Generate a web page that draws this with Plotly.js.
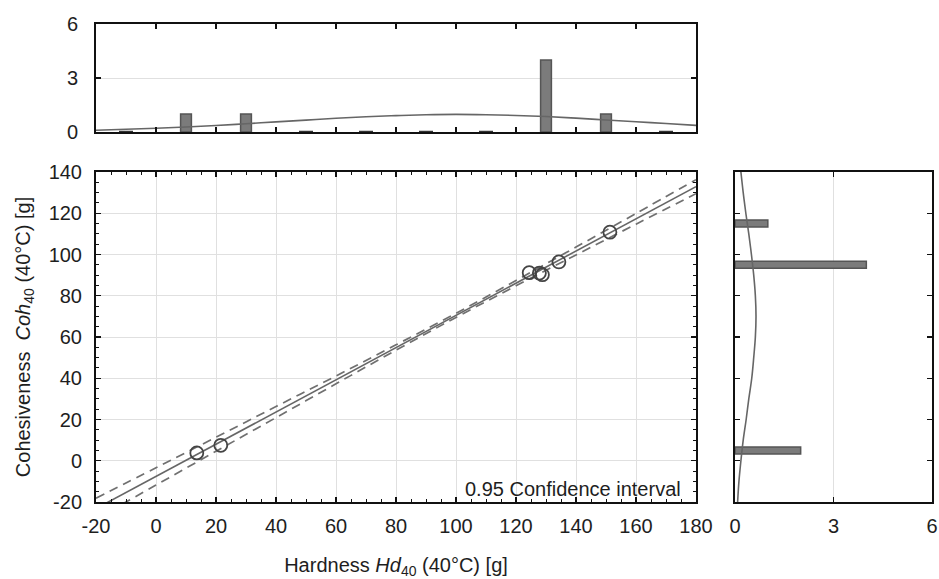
<!DOCTYPE html>
<html>
<head>
<meta charset="utf-8">
<script src="https://cdn.plot.ly/plotly-3.0.1.min.js"></script>
<style>html,body{margin:0;padding:0;background:#fff;}#chart{width:939px;height:579px;}</style>
</head>
<body>
<div id="chart"></div>
<script>
// ---- Data ----
const hardness = [13.6, 21.6, 124.4, 127.8, 128.8, 134.3, 151.3];
const cohesiveness = [3.8, 7.5, 91.2, 91.0, 90.2, 96.4, 110.8];

// regression line (end points) and 0.95 confidence band
const fitX = [-20, 180];
const fitY = [-23.2, 132.9];
const bandX = [-20, 0, 20, 40, 60, 80, 100, 120, 140, 160, 180];
const bandUpper = [-18.2, -3.4, 11.4, 26.3, 41.1, 56.2, 71.5, 87.4, 103.6, 119.9, 136.3];
const bandLower = [-28.2, -11.8, 4.6, 20.9, 37.3, 53.6, 69.5, 84.8, 99.8, 114.7, 129.5];

// histogram of hardness (top)
const hdBins = [-10, 10, 30, 50, 70, 90, 110, 130, 150, 170];
const hdCounts = [0, 1, 1, 0, 0, 0, 0, 4, 1, 0];
const hdCurveX = [-20, -10, 0, 10, 20, 30, 40, 50, 60, 70, 80, 90, 100, 110, 120, 130, 140, 150, 160, 170, 180];
const hdCurveY = [0.10, 0.15, 0.21, 0.28, 0.36, 0.46, 0.56, 0.66, 0.76, 0.85, 0.91, 0.96, 0.98, 0.96, 0.92, 0.86, 0.77, 0.67, 0.57, 0.47, 0.37];

// histogram of cohesiveness (right)
const cohBins = [5, 95, 115];
const cohCounts = [2, 4, 1];
const cohCurveY = [-20, -10, 0, 10, 20, 30, 40, 50, 60, 70, 80, 90, 100, 110, 120, 130, 140];
const cohCurveX = [0.08, 0.12, 0.18, 0.25, 0.34, 0.42, 0.51, 0.57, 0.62, 0.64, 0.62, 0.57, 0.50, 0.42, 0.33, 0.25, 0.18];

// tick values / labels
const xTicks = [-20, 0, 20, 40, 60, 80, 100, 120, 140, 160, 180];
const xTickText = ['-20', '0', '20', '40', '60', '80', '100', '120', '140', '160', '180'];
const yTicks = [-20, 0, 20, 40, 60, 80, 100, 120, 140];
const yTickText = ['-20', '0', '20', '40', '60', '80', '100', '120', '140'];
const countTicks = [0, 3, 6];
const countTickText = ['0', '3', '6'];

// ---- Styling ----
const FONT = 'Liberation Sans, Arial, Helvetica, sans-serif';
const INK = '#1e1e1e';
const GRID = '#e0e0e0';
const LINE = '#666';
const FS = 20;

const zeroBinsX = hdBins.filter((b, i) => hdCounts[i] === 0);
const zeroBinsY = zeroBinsX.map(() => 0);

const traces = [
  // main panel
  {x: fitX, y: fitY, type: 'scatter', mode: 'lines', xaxis: 'x', yaxis: 'y',
   line: {color: LINE, width: 1.6}},
  {x: bandX, y: bandUpper, type: 'scatter', mode: 'lines', xaxis: 'x', yaxis: 'y',
   line: {color: '#707070', width: 1.7, dash: '9px,6px', shape: 'spline'}},
  {x: bandX, y: bandLower, type: 'scatter', mode: 'lines', xaxis: 'x', yaxis: 'y',
   line: {color: '#707070', width: 1.7, dash: '9px,6px', shape: 'spline'}},
  {x: hardness, y: cohesiveness, type: 'scatter', mode: 'markers', xaxis: 'x', yaxis: 'y',
   marker: {symbol: 'circle-open', size: 13, color: '#444', line: {width: 1.8, color: '#444'}}},
  // top histogram
  {x: hdBins, y: hdCounts, type: 'bar', xaxis: 'x2', yaxis: 'y2', width: 3.6,
   marker: {color: '#7b7b7b', line: {color: '#555', width: 1.5}}},
  {x: zeroBinsX, y: zeroBinsY, type: 'scatter', mode: 'markers', xaxis: 'x2', yaxis: 'y2', cliponaxis: false,
   marker: {symbol: 'line-ew', size: 10, line: {color: '#333', width: 2.5}}},
  {x: hdCurveX, y: hdCurveY, type: 'scatter', mode: 'lines', xaxis: 'x2', yaxis: 'y2',
   line: {color: LINE, width: 1.6, shape: 'spline'}},
  // right histogram
  {x: cohCounts, y: cohBins, type: 'bar', orientation: 'h', xaxis: 'x3', yaxis: 'y3', width: 3.4,
   marker: {color: '#7b7b7b', line: {color: '#555', width: 1.5}}},
  {x: cohCurveX, y: cohCurveY, type: 'scatter', mode: 'lines', xaxis: 'x3', yaxis: 'y3',
   line: {color: LINE, width: 1.6, shape: 'spline'}}
];

const baseAxis = {
  showline: true, linewidth: 2, linecolor: '#111', mirror: 'allticks',
  ticks: 'inside', ticklen: 5, tickwidth: 1.2, tickcolor: '#111',
  zeroline: false, gridcolor: GRID, gridwidth: 1,
  tickfont: {family: FONT, size: FS, color: INK}
};

const xMainDomain = [96 / 939, 696 / 939];
const yMainDomain = [1 - 502 / 579, 1 - 172 / 579];

const layout = {
  width: 939, height: 579,
  margin: {l: 0, r: 0, t: 0, b: 0},
  paper_bgcolor: '#fff', plot_bgcolor: '#fff',
  showlegend: false,
  bargap: 0,
  font: {family: FONT, color: INK, size: FS},
  xaxis: Object.assign({}, baseAxis, {
    domain: xMainDomain, anchor: 'y', range: [-20, 180],
    tickmode: 'array', tickvals: xTicks, ticktext: xTickText, showgrid: true,
    ticklabelstandoff: 5,
    minor: {dtick: 5, ticks: 'inside', ticklen: 3, tickcolor: '#111', tickwidth: 1, showgrid: false},
    title: {text: 'Hardness <i>Hd</i><sub>40</sub> (40°C) [g]', font: {family: FONT, size: FS, color: INK}, standoff: 22}
  }),
  yaxis: Object.assign({}, baseAxis, {
    domain: yMainDomain, anchor: 'x', range: [-20, 140],
    tickmode: 'array', tickvals: yTicks, ticktext: yTickText, showgrid: true,
    ticklabelstandoff: 8,
    minor: {dtick: 5, ticks: 'inside', ticklen: 3, tickcolor: '#111', tickwidth: 1, showgrid: false},
    title: {text: 'Cohesiveness\u00a0\u00a0<i>Coh</i><sub>40</sub> (40°C) [g]', font: {family: FONT, size: FS, color: INK}, standoff: 13}
  }),
  xaxis2: Object.assign({}, baseAxis, {
    domain: xMainDomain, anchor: 'y2', range: [-20, 180],
    tickmode: 'array', tickvals: xTicks, showticklabels: false, showgrid: false
  }),
  yaxis2: Object.assign({}, baseAxis, {
    domain: [1 - 132 / 579, 1 - 24 / 579], anchor: 'x2', range: [0, 6],
    tickmode: 'array', tickvals: countTicks, ticktext: countTickText, showgrid: true,
    ticklabelstandoff: 12
  }),
  xaxis3: Object.assign({}, baseAxis, {
    domain: [735 / 939, 932 / 939], anchor: 'y3', range: [0, 6],
    tickmode: 'array', tickvals: countTicks, ticktext: countTickText, showgrid: true,
    ticklabelstandoff: 5
  }),
  yaxis3: Object.assign({}, baseAxis, {
    domain: yMainDomain, anchor: 'x3', range: [-20, 140],
    tickmode: 'array', tickvals: yTicks, showticklabels: false, showgrid: false
  }),
  annotations: [{
    xref: 'x', yref: 'y', x: 175.5, y: -13.7, xanchor: 'right', yanchor: 'middle',
    text: '0.95 Confidence interval', showarrow: false,
    font: {family: FONT, size: FS, color: INK}
  }]
};

Plotly.newPlot('chart', traces, layout, {staticPlot: true, displayModeBar: false});
</script>
</body>
</html>
